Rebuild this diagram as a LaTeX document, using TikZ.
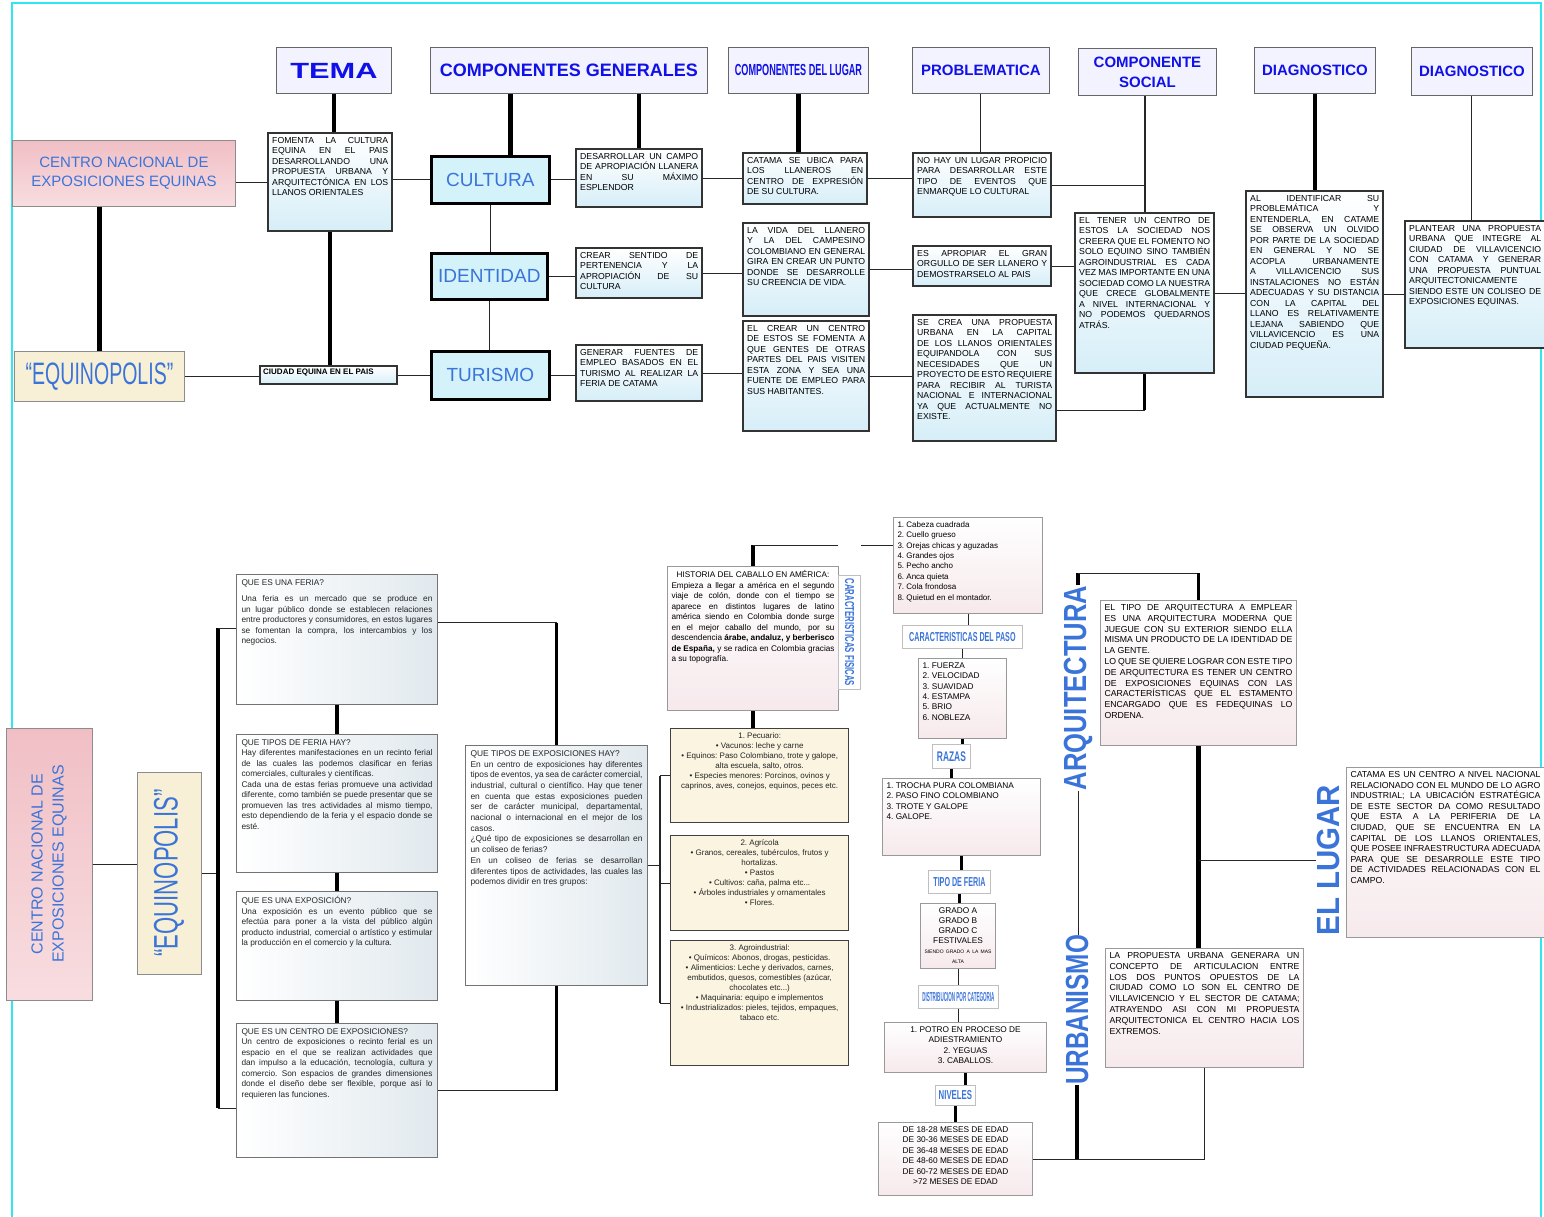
\documentclass[tikz,border=0pt]{standalone}
\usepackage{fontspec}
\setmainfont{Liberation Sans}
\usepackage{graphicx}
\usepackage{tikz}
\usetikzlibrary{positioning,calc}
\definecolor{HdrBlue}{HTML}{1010E8}
\definecolor{TagBlue}{HTML}{3B74D9}
\definecolor{HdrLav}{HTML}{F3F2FF}
\definecolor{RosePink}{HTML}{F0BFC5}
\definecolor{RoseLight}{HTML}{F8DDE0}
\definecolor{Cream}{HTML}{F7F0D6}
\definecolor{CompCyan}{HTML}{D3F2FA}
\definecolor{IceBlue}{HTML}{D6EEF8}
\definecolor{MistGray}{HTML}{E1E9EE}
\definecolor{WarmCream}{HTML}{FAF4E0}
\definecolor{BlushWhite}{HTML}{F6E9EC}
\definecolor{FrameCyan}{HTML}{2FE6F2}
\newcommand{\fs}[2]{\fontsize{#1}{#2}\selectfont}
\newcommand{\tbody}[2]{\parbox[t][#1][t]{\linewidth}{\leftskip=0pt\rightskip=0pt
  \parfillskip=0pt plus 1fil\spaceskip=0.28em plus 0.8em minus 0.08em
  \xspaceskip=\spaceskip\relax #2}}
\newcommand{\squeeze}[3]{\scalebox{#1}[1]{\fs{#2}{#2}#3}}
\hyphenpenalty=10000
\exhyphenpenalty=10000
\tolerance=9999
\emergencystretch=3em

\begin{document}
\begin{tikzpicture}[x=1pt,y=-1pt,
    hdr/.style={draw=black!60,fill=HdrLav,line width=0.9pt,anchor=north west,
                inner sep=0pt,align=center,text=HdrBlue,font=\bfseries},
    comp/.style={draw=black,fill=CompCyan,line width=2.6pt,anchor=north west,
                 inner sep=0pt,text=TagBlue,font=\fs{19}{19}},
    topbox/.style={draw=black!80,line width=2.4pt,top color=white,bottom color=IceBlue,
                   anchor=north west,inner sep=4pt,align=justify,font=\fs{8.7}{10.5}},
    infobox/.style={draw=black!55,line width=1pt,left color=white,right color=MistGray,
                    anchor=north west,inner sep=5pt,align=justify,text=black!85,
                    font=\fs{8.3}{10.5}},
    creambox/.style={draw=black!75,line width=1.3pt,fill=WarmCream,
                     anchor=north west,inner sep=4pt,text=black!85,font=\fs{8}{10}},
    listbox/.style={draw=black!40,line width=1pt,top color=white,bottom color=BlushWhite,
                    anchor=north west,inner sep=4pt,font=\fs{8}{10.4}},
    tag/.style={draw=black!25,fill=white,line width=0.8pt,anchor=north west,
                inner sep=0pt,text=TagBlue,font=\bfseries},
    vlabel/.style={inner sep=0pt,text=TagBlue,font=\bfseries},
    pinkbox/.style={draw=black!45,line width=1pt,top color=RosePink,bottom color=RoseLight,
                    inner sep=0pt,align=center,text=TagBlue},
    creamlbl/.style={draw=black!45,line width=1pt,fill=Cream,inner sep=0pt,text=TagBlue},
    link/.style={draw=black!85,line width=1pt},
    heavy/.style={draw=black,line width=4.5pt}]

  \useasboundingbox (0,0) rectangle (1544,1217);
  \fill[white] (0,0) rectangle (1544,1217);
  \draw[FrameCyan,line width=1.2pt] (12,1217) -- (12,3) -- (1541,3) -- (1541,1217);

  % ---------- upper map ----------
  \node[hdr,minimum width=115pt,minimum height=46pt] (tema) at (276,47)
    {\squeeze{1.4}{22}{TEMA}};
  \node[hdr,minimum width=277pt,minimum height=46pt] (compgen) at (430,47)
    {\fs{18}{18}COMPONENTES GENERALES};
  \node[hdr,minimum width=140pt,minimum height=46pt] (complugar) at (728,47)
    {\squeeze{0.57}{16}{COMPONENTES DEL LUGAR}};
  \node[hdr,minimum width=137pt,minimum height=46pt] (problema) at (912,47)
    {\fs{15}{15}PROBLEMATICA};
  \node[hdr,minimum width=138pt,minimum height=47pt,font=\bfseries\fs{15}{20}] (compsoc)
    at (1078,48) {COMPONENTE\\SOCIAL};
  \node[hdr,minimum width=121pt,minimum height=46pt] (diaguno) at (1254,47)
    {\fs{15}{15}DIAGNOSTICO};
  \node[hdr,minimum width=121pt,minimum height=48pt] (diagdos) at (1411,47)
    {\fs{15}{15}DIAGNOSTICO};

  \node[pinkbox,anchor=north west,minimum width=223pt,minimum height=66pt,font=\fs{15}{19}]
    (centro) at (12,140) {CENTRO NACIONAL DE\\EXPOSICIONES EQUINAS};
  \node[creamlbl,anchor=north west,minimum width=170pt,minimum height=50pt] (equino) at (14,351)
    {\squeeze{0.63}{31}{“EQUINOPOLIS”}};

  \node[topbox,text width=116pt] (fomenta) at (267,132) {\tbody{90pt}{FOMENTA LA CULTURA
    EQUINA EN EL PAIS DESARROLLANDO UNA PROPUESTA URBANA Y ARQUITECTÓNICA EN LOS LLANOS
    ORIENTALES}};
  \node[topbox,text width=131pt,inner sep=3pt,font=\fs{8}{9}\bfseries] (ciudad) at (259,365)
    {\tbody{12pt}{CIUDAD EQUINA EN EL PAIS}};

  \node[comp,minimum width=118pt,minimum height=47pt] (cultura) at (430,155) {CULTURA};
  \node[comp,minimum width=116pt,minimum height=46pt] (identidad) at (430,252) {IDENTIDAD};
  \node[comp,minimum width=118pt,minimum height=48pt] (turismo) at (430,350) {TURISMO};

  \node[topbox,text width=118pt] (desarrollar) at (575,148) {\tbody{50pt}{DESARROLLAR UN
    CAMPO DE APROPIACIÓN LLANERA EN SU MÁXIMO ESPLENDOR}};
  \node[topbox,text width=118pt] (crear) at (575,247) {\tbody{42pt}{CREAR SENTIDO DE
    PERTENENCIA Y LA APROPIACIÓN DE SU CULTURA}};
  \node[topbox,text width=118pt] (generar) at (575,344) {\tbody{48pt}{GENERAR FUENTES DE
    EMPLEO BASADOS EN EL TURISMO AL REALIZAR LA FERIA DE CATAMA}};

  \node[topbox,text width=116pt] (catama) at (742,152) {\tbody{43pt}{CATAMA SE UBICA PARA
    LOS LLANEROS EN CENTRO DE EXPRESIÓN DE SU CULTURA.}};
  \node[topbox,text width=118pt] (vida) at (742,222) {\tbody{85pt}{LA VIDA DEL LLANERO Y
    LA DEL CAMPESINO COLOMBIANO EN GENERAL GIRA EN CREAR UN PUNTO DONDE SE DESARROLLE SU
    CREENCIA DE VIDA.}};
  \node[topbox,text width=118pt] (centroest) at (742,320) {\tbody{102pt}{EL CREAR UN CENTRO
    DE ESTOS SE FOMENTA A QUE GENTES DE OTRAS PARTES DEL PAIS VISITEN ESTA ZONA Y SEA UNA
    FUENTE DE EMPLEO PARA SUS HABITANTES.}};

  \node[topbox,text width=130pt] (nohay) at (912,152) {\tbody{56pt}{NO HAY UN LUGAR
    PROPICIO PARA DESARROLLAR ESTE TIPO DE EVENTOS QUE ENMARQUE LO CULTURAL}};
  \node[topbox,text width=130pt] (apropiar) at (912,245) {\tbody{32pt}{ES APROPIAR EL GRAN
    ORGULLO DE SER LLANERO Y DEMOSTRARSELO AL PAIS}};
  \node[topbox,text width=135pt] (secrea) at (912,314) {\tbody{118pt}{SE CREA UNA PROPUESTA
    URBANA EN LA CAPITAL DE LOS LLANOS ORIENTALES EQUIPANDOLA CON SUS NECESIDADES QUE UN
    PROYECTO DE ESTO REQUIERE PARA RECIBIR AL TURISTA NACIONAL E INTERNACIONAL YA QUE
    ACTUALMENTE NO EXISTE.}};

  \node[topbox,text width=131pt] (tener) at (1074,212) {\tbody{152pt}{EL TENER UN CENTRO DE
    ESTOS LA SOCIEDAD NOS CREERA QUE EL FOMENTO NO SOLO EQUINO SINO TAMBIÉN AGROINDUSTRIAL
    ES CADA VEZ MAS IMPORTANTE EN UNA SOCIEDAD COMO LA NUESTRA QUE CRECE GLOBALMENTE A
    NIVEL INTERNACIONAL Y NO PODEMOS QUEDARNOS ATRÁS.}};
  \node[topbox,text width=129pt] (identificar) at (1245,190) {\tbody{198pt}{AL IDENTIFICAR
    SU PROBLEMÁTICA Y ENTENDERLA, EN CATAME SE OBSERVA UN OLVIDO POR PARTE DE LA SOCIEDAD EN
    GENERAL Y NO SE ACOPLA URBANAMENTE A VILLAVICENCIO SUS INSTALACIONES NO ESTÁN
    ADECUADAS Y SU DISTANCIA CON LA CAPITAL DEL LLANO ES RELATIVAMENTE LEJANA SABIENDO QUE
    VILLAVICENCIO ES UNA CIUDAD PEQUEÑA.}};
  \node[topbox,text width=132pt] (plantear) at (1404,220) {\tbody{119pt}{PLANTEAR UNA
    PROPUESTA URBANA QUE INTEGRE AL CIUDAD DE VILLAVICENCIO CON CATAMA Y GENERAR UNA
    PROPUESTA PUNTUAL ARQUITECTONICAMENTE SIENDO ESTE UN COLISEO DE EXPOSICIONES EQUINAS.}};

  \draw[link] (fomenta.west) -- (fomenta.west -| centro.east);
  \draw[heavy] (tema.south) -- (tema.south |- fomenta.north);
  \draw[heavy] (equino.north) -- (equino.north |- centro.south);
  \draw[heavy] (fomenta.south) -- (fomenta.south |- ciudad.north);
  \draw[link] (equino.east) -- (equino.east -| ciudad.west);
  \draw[link] (cultura.west) -- (cultura.west -| fomenta.east);
  \draw[link] (turismo.west) -- (turismo.west -| ciudad.east);
  \draw[heavy] ([xshift=20pt]cultura.north) -- ([xshift=20pt]cultura.north |- compgen.south);
  \draw[heavy] (desarrollar.north) -- (desarrollar.north |- compgen.south);
  \draw[link] (cultura.south) -- (cultura.south |- identidad.north);
  \draw[link] (identidad.south) -- (identidad.south |- turismo.north);
  \draw[link] (cultura.east) -- (cultura.east -| desarrollar.west);
  \draw[link] (identidad.east) -- (identidad.east -| crear.west);
  \draw[link] (turismo.east) -- (turismo.east -| generar.west);
  \draw[link] (desarrollar.east) -- (desarrollar.east -| catama.west);
  \draw[link] (crear.east) -- (crear.east -| vida.west);
  \draw[link] (generar.east) -- (generar.east -| centroest.west);
  \draw[heavy] (complugar.south) -- (complugar.south |- catama.north);
  \draw[link] (catama.east) -- (catama.east -| nohay.west);
  \draw[link] (vida.east) -- (vida.east -| apropiar.west);
  \draw[link] (centroest.east) -- (centroest.east -| secrea.west);
  \draw[link] (problema.south) -- (problema.south |- nohay.north);
  \draw[link,line width=1.8pt] (tener.north) -- (tener.north |- compsoc.south);
  \draw[link] (nohay.east) -- (nohay.east -| tener.north);
  \draw[link] (apropiar.east) -- (apropiar.east -| tener.west);
  \draw[link] ([yshift=-32pt]secrea.east) -- ([yshift=-32pt]secrea.east -| tener.south);
  \draw[heavy,line width=3pt] ([yshift=-32pt]secrea.east -| tener.south) -- (tener.south);
  \draw[link] (tener.east) -- (tener.east -| identificar.west);
  \draw[heavy] (diaguno.south) -- (diaguno.south |- identificar.north);
  \draw[link] (identificar.east) -- (identificar.east -| plantear.west);
  \draw[link] (diagdos.south) -- (diagdos.south |- plantear.north);

  % ---------- lower map ----------
  \node[pinkbox,rotate=90,minimum width=272pt,minimum height=86pt,font=\fs{16}{21}]
    (centrob) at (49,864) {CENTRO NACIONAL DE\\EXPOSICIONES EQUINAS};
  \node[creamlbl,rotate=90,minimum width=202pt,minimum height=64pt] (equinob) at (169,873)
    {\squeeze{0.65}{34}{“EQUINOPOLIS”}};

  \node[infobox,text width=191pt] (feria) at (236,574) {\tbody{120pt}{QUE ES UNA FERIA?\par
    \vspace{6pt}Una feria es un mercado que se produce en un lugar público donde se
    establecen relaciones entre productores y consumidores, en estos lugares se fomentan la
    compra, los intercambios y los negocios.}};
  \node[infobox,text width=191pt] (tiposferia) at (236,734) {\tbody{128pt}{QUE TIPOS DE
    FERIA HAY?\par Hay diferentes manifestaciones en un recinto ferial de las cuales las
    podemos clasificar en ferias comerciales, culturales y científicas.\par Cada una de estas
    ferias promueve una actividad diferente, como también se puede presentar que se
    promueven las tres actividades al mismo tiempo, esto dependiendo de la feria y el
    espacio donde se esté.}};
  \node[infobox,text width=191pt] (exposicion) at (236,891) {\tbody{99pt}{QUE ES UNA
    EXPOSICIÓN?\par Una exposición es un evento público que se efectúa para poner a la vista
    del público algún producto industrial, comercial o artístico y estimular la producción
    en el comercio y la cultura.}};
  \node[infobox,text width=191pt] (centroexp) at (236,1023) {\tbody{124pt}{QUE ES UN CENTRO
    DE EXPOSICIONES?\par Un centro de exposiciones o recinto ferial es un espacio en el que
    se realizan actividades que dan impulso a la educación, tecnología, cultura y comercio.
    Son espacios de grandes dimensiones donde el diseño debe ser flexible, porque así lo
    requieren las funciones.}};
  \node[infobox,text width=172pt,font=\fs{8.4}{10.7}] (tiposexp) at (465,745) {\tbody{230pt}{QUE
    TIPOS DE EXPOSICIONES HAY?\par En un centro de exposiciones hay diferentes tipos de
    eventos, ya sea de carácter comercial, industrial, cultural o científico. Hay que tener
    en cuenta que estas exposiciones pueden ser de carácter municipal, departamental,
    nacional o internacional en el mejor de los casos.\par ¿Qué tipo de exposiciones se
    desarrollan en un coliseo de ferias?\par En un coliseo de ferias se desarrollan
    diferentes tipos de actividades, las cuales las podemos dividir en tres grupos:}};

  \node[listbox,text width=163pt,font=\fs{8.2}{10.5}] (historia) at (667,566)
    {\tbody{136pt}{{\centering HISTORIA DEL CABALLO EN AMÉRICA:\par}
    Empieza a llegar a américa en el segundo viaje de colón, donde con el tiempo se aparece
    en distintos lugares de latino américa siendo en Colombia donde surge en el mejor
    caballo del mundo, por su descendencia \textbf{árabe, andaluz, y berberisco de España,}
    y se radica en Colombia gracias a su topografía.}};
  \node[creambox,text width=170pt] (pecuario) at (670,728) {\tbody{86pt}{\centering
    1. Pecuario:\\ • Vacunos: leche y carne\\ • Equinos: Paso Colombiano, trote y galope, alta
    escuela, salto, otros.\\ • Especies menores: Porcinos, ovinos y caprinos, aves, conejos,
    equinos, peces etc.}};
  \node[creambox,text width=170pt] (agricola) at (670,835) {\tbody{87pt}{\centering
    2. Agrícola\\ • Granos, cereales, tubérculos, frutos y hortalizas.\\ • Pastos\\
    • Cultivos: caña, palma etc...\\ • Árboles industriales y ornamentales\\ • Flores.}};
  \node[creambox,text width=170pt] (agroind) at (670,940) {\tbody{117pt}{\centering
    3. Agroindustrial:\\ • Químicos: Abonos, drogas, pesticidas.\\ • Alimenticios: Leche y
    derivados, carnes, embutidos, quesos, comestibles (azúcar, chocolates etc...)\\
    • Maquinaria: equipo e implementos\\ • Industrializados: pieles, tejidos, empaques,
    tabaco etc.}};

  \node[tag,rotate=-90,minimum width=114pt,minimum height=22pt] (caracfis) at (861,575)
    {\squeeze{0.6}{13}{CARACTERISTICAS FISICAS}};
  \node[listbox,text width=141pt] (fisicas) at (893,517) {\tbody{88pt}{\raggedright
    1. Cabeza cuadrada\\ 2. Cuello grueso\\ 3. Orejas chicas y aguzadas\\ 4. Grandes ojos\\
    5. Pecho ancho\\ 6. Anca quieta\\ 7. Cola frondosa\\ 8. Quietud en el montador.}};
  \node[tag,minimum width=120pt,minimum height=23pt] (caracpaso) at (902,625)
    {\squeeze{0.55}{13}{CARACTERISTICAS DEL PASO}};
  \node[listbox,text width=80pt,font=\fs{8.3}{10.4}] (pasolist) at (918,658) {\tbody{72pt}{\raggedright
    1. FUERZA\\ 2. VELOCIDAD\\ 3. SUAVIDAD\\ 4. ESTAMPA\\ 5. BRIO\\ 6. NOBLEZA}};
  \node[tag,minimum width=38pt,minimum height=24pt] (razas) at (932,744)
    {\squeeze{0.6}{14}{RAZAS}};
  \node[listbox,text width=150pt,font=\fs{8.3}{10.4}] (razaslist) at (882,778) {\tbody{69pt}{\raggedright
    1. TROCHA PURA COLOMBIANA\\ 2. PASO FINO COLOMBIANO\\ 3. TROTE Y GALOPE\\ 4. GALOPE.}};
  \node[tag,minimum width=62pt,minimum height=23pt] (tipoferia) at (928,870)
    {\squeeze{0.55}{13}{TIPO DE FERIA}};
  \node[listbox,text width=67pt,font=\fs{8.3}{10}] (grados) at (920,903) {\tbody{57pt}{\centering
    GRADO A\\ GRADO B\\ GRADO C\\ FESTIVALES\\ {\fs{5}{6}SIENDO GRADO A LA MAS ALTA}}};
  \node[tag,minimum width=80pt,minimum height=23pt] (distrib) at (918,985)
    {\squeeze{0.35}{13}{DISTRIBUCION POR CATEGORIA}};
  \node[listbox,text width=154pt,font=\fs{8.3}{10.4}] (distriblist) at (884,1022) {\tbody{42pt}{\centering
    1. POTRO EN PROCESO DE ADIESTRAMIENTO\\ 2. YEGUAS\\ 3. CABALLOS.}};
  \node[tag,minimum width=40pt,minimum height=20pt] (niveles) at (935,1085)
    {\squeeze{0.6}{13}{NIVELES}};
  \node[listbox,text width=146pt,font=\fs{8.3}{10.5}] (edades) at (878,1122) {\tbody{65pt}{\centering
    DE 18-28 MESES DE EDAD\\ DE 30-36 MESES DE EDAD\\ DE 36-48 MESES DE EDAD\\
    DE 48-60 MESES DE EDAD\\ DE 60-72 MESES DE EDAD\\ >72 MESES DE EDAD}};

  \node[vlabel,rotate=90] (arqlabel) at (1078,688) {\squeeze{0.8}{32}{ARQUITECTURA}};
  \node[vlabel,rotate=90] (urblabel) at (1077,1010) {\squeeze{0.76}{32}{URBANISMO}};
  \node[vlabel,rotate=90] (lugarlabel) at (1328,860) {\squeeze{0.92}{32}{EL LUGAR}};

  \node[listbox,text width=188pt,font=\fs{8.7}{10.8}] (arqbox) at (1100,600) {\tbody{137pt}{EL
    TIPO DE ARQUITECTURA A EMPLEAR ES UNA ARQUITECTURA MODERNA QUE JUEGUE CON SU EXTERIOR
    SIENDO ELLA MISMA UN PRODUCTO DE LA IDENTIDAD DE LA GENTE.\par LO QUE SE QUIERE LOGRAR
    CON ESTE TIPO DE ARQUITECTURA ES TENER UN CENTRO DE EXPOSICIONES EQUINAS CON LAS
    CARACTERÍSTICAS QUE EL ESTAMENTO ENCARGADO QUE ES FEDEQUINAS LO ORDENA.}};
  \node[listbox,text width=190pt,font=\fs{8.7}{10.8}] (urbbox) at (1105,948) {\tbody{111pt}{LA
    PROPUESTA URBANA GENERARA UN CONCEPTO DE ARTICULACION ENTRE LOS DOS PUNTOS OPUESTOS DE
    LA CIUDAD COMO LO SON EL CENTRO DE VILLAVICENCIO Y EL SECTOR DE CATAMA; ATRAYENDO ASI
    CON MI PROPUESTA ARQUITECTONICA EL CENTRO HACIA LOS EXTREMOS.}};
  \node[listbox,text width=190pt,font=\fs{8.7}{10.6}] (lugarbox) at (1346,767) {\tbody{162pt}{CATAMA
    ES UN CENTRO A NIVEL NACIONAL RELACIONADO CON EL MUNDO DE LO AGRO INDUSTRIAL; LA
    UBICACIÓN ESTRATÉGICA DE ESTE SECTOR DA COMO RESULTADO QUE ESTA A LA PERIFERIA DE LA
    CIUDAD, QUE SE ENCUENTRA EN LA CAPITAL DE LOS LLANOS ORIENTALES, QUE POSEE
    INFRAESTRUCTURA ADECUADA PARA QUE SE DESARROLLE ESTE TIPO DE ACTIVIDADES RELACIONADAS
    CON EL CAMPO.}};

  \draw[link] (centrob.south) -- (centrob.south -| equinob.north);
  \coordinate (bartop) at (218,628);
  \coordinate (barbot) at (218,1108);
  \draw[link] (equinob.south) -- (equinob.south -| bartop);
  \draw[heavy] (bartop) -- (barbot);
  \draw[link] (bartop) -- (bartop -| feria.west);
  \draw[link] (barbot) -- (barbot -| centroexp.west);
  \draw[heavy] (feria.south) -- (feria.south |- tiposferia.north);
  \draw[heavy] (tiposferia.south) -- (tiposferia.south |- exposicion.north);
  \draw[heavy] (exposicion.south) -- (exposicion.south |- centroexp.north);
  \draw[link] ([yshift=17pt]feria.east) -- ([yshift=17pt]feria.east -| tiposexp.north);
  \draw[heavy,line width=3pt] ([yshift=17pt]feria.east -| tiposexp.north) -- (tiposexp.north);
  \draw[link] (centroexp.east) -- (centroexp.east -| tiposexp.south);
  \draw[heavy,line width=3pt] (centroexp.east -| tiposexp.south) -- (tiposexp.south);

  \coordinate (brk) at (660,877);
  \draw[link] (tiposexp.east) -- (tiposexp.east -| brk);
  \draw[link,line width=1.6pt] (pecuario.west -| brk) -- (agroind.west -| brk);
  \draw[link] (pecuario.west -| brk) -- (pecuario.west);
  \draw[link] (agricola.west -| brk) -- (agricola.west);
  \draw[link] (agroind.west -| brk) -- (agroind.west);

  \coordinate (htop) at ([yshift=21pt]historia.north);
  \draw[heavy,line width=3.5pt] (historia.north) -- (htop);
  \draw[heavy] (historia.south) -- (historia.south |- pecuario.north);
  \draw[link] (htop) -- (htop -| caracfis.south);
  \draw[link] (htop -| caracfis.north) -- (htop -| fisicas.west);
  \draw[link] (fisicas.south) -- (fisicas.south |- caracpaso.north);
  \draw[link] (caracpaso.south) -- (caracpaso.south |- pasolist.north);
  \draw[heavy,line width=3.5pt] (pasolist.south) -- (pasolist.south |- razas.north);
  \draw[heavy,line width=3.5pt] (razas.south) -- (razas.south |- razaslist.north);
  \draw[heavy,line width=3.5pt] (razaslist.south) -- (razaslist.south |- tipoferia.north);
  \draw[heavy,line width=3.5pt] (tipoferia.south) -- (tipoferia.south |- grados.north);
  \draw[link] (grados.south) -- (grados.south |- distrib.north);
  \draw[link] (distrib.south) -- (distrib.south |- distriblist.north);
  \draw[heavy,line width=3.5pt] (distriblist.south) -- (distriblist.south |- niveles.north);
  \draw[heavy,line width=3.5pt] (niveles.south) -- (niveles.south |- edades.north);

  \draw[link] (edades.east) -- (edades.east -| urbbox.south) -- (urbbox.south);
  \draw[heavy,line width=3.5pt] (urblabel.west) -- (urblabel.west |- edades.east);
  \draw[link] (arqlabel.west) -- (arqlabel.west |- urblabel.east);
  \coordinate (atop) at ([yshift=12pt]arqlabel.east);
  \draw[heavy,line width=3.5pt] (arqlabel.east) -- (atop);
  \draw[link] (atop) -- (atop -| arqbox.north);
  \draw[heavy,line width=3.5pt] (atop -| arqbox.north) -- (arqbox.north);
  \draw[heavy] (arqbox.south) -- (arqbox.south |- urbbox.north);
  \draw[link] (lugarlabel.north) -- (lugarlabel.north -| arqbox.south);
\end{tikzpicture}
\end{document}
